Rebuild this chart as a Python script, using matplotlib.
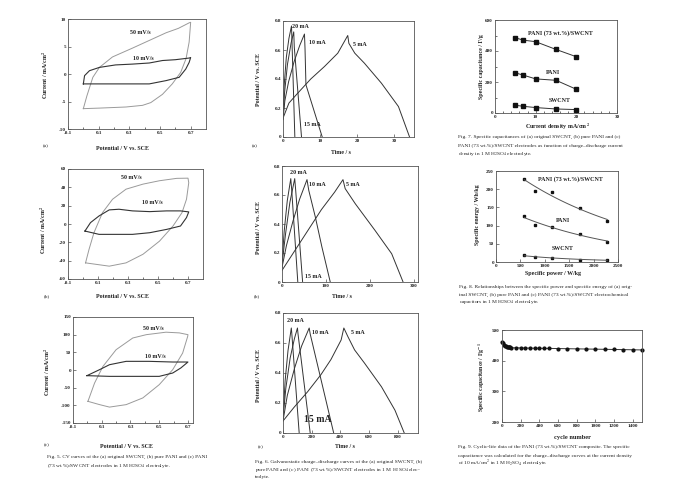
import numpy as np
import matplotlib
matplotlib.use("Agg")
import matplotlib.pyplot as plt
from matplotlib.ticker import FixedLocator, FuncFormatter

plt.rcParams['font.family'] = ['Liberation Serif', 'DejaVu Serif']
plt.rcParams['mathtext.fontset'] = 'stix'

# ---------------- Fig. 5 CV data ----------------
cv_a_50_E = [0.0, 0.023, 0.062, 0.105, 0.19, 0.32, 0.43, 0.54, 0.62, 0.69, 0.70, 0.69, 0.67, 0.635, 0.58, 0.516, 0.44, 0.386, 0.278, 0.105, 0.0]
cv_a_50_I = [-6.3, -4.0, -0.6, 1.2, 3.1, 4.7, 6.1, 7.5, 8.3, 9.3, 9.4, 5.8, 2.8, 0.3, -1.8, -3.7, -5.2, -5.7, -6.0, -6.2, -6.3]
cv_a_10_E = [0.0, 0.008, 0.04, 0.105, 0.21, 0.32, 0.43, 0.516, 0.6, 0.69, 0.70, 0.69, 0.668, 0.625, 0.54, 0.43, 0.32, 0.1, 0.0]
cv_a_10_I = [-1.8, -0.3, 0.6, 1.2, 1.65, 1.8, 2.0, 2.45, 2.6, 2.9, 3.0, 2.1, 0.9, -0.6, -1.2, -1.8, -1.8, -1.8, -1.8]

cv_b_50_E = [0.017, 0.04, 0.073, 0.13, 0.197, 0.287, 0.4, 0.51, 0.625, 0.70, 0.705, 0.69, 0.66, 0.6, 0.51, 0.4, 0.287, 0.175, 0.017]
cv_b_50_I = [-42.4, -27.8, -9.5, 12.4, 27, 38, 43.5, 47.2, 49.8, 50, 45, 27, 12.4, -2.2, -18.7, -33, -42.4, -46, -42.4]
cv_b_10_E = [0.013, 0.05, 0.107, 0.175, 0.24, 0.33, 0.445, 0.557, 0.65, 0.705, 0.69, 0.65, 0.557, 0.445, 0.33, 0.22, 0.107, 0.013]
cv_b_10_I = [-7.7, 1.5, 8.8, 15.4, 16.1, 14.3, 13.5, 14.3, 14.3, 13.2, 7, -2.2, -5.9, -9.5, -11.3, -11.3, -11.3, -7.7]

cv_c_50_E = [0.004, 0.05, 0.108, 0.2, 0.316, 0.41, 0.547, 0.64, 0.70, 0.698, 0.663, 0.594, 0.5, 0.386, 0.27, 0.154, 0.085, 0.004]
cv_c_50_I = [-88.7, -37, 10, 57.5, 90.6, 100, 107, 105, 100, 95, 48, 1, -41.5, -79, -98, -105, -98, -88.7]
cv_c_10_E = [-0.003, 0.085, 0.154, 0.27, 0.43, 0.594, 0.70, 0.65, 0.594, 0.5, 0.316, 0.154, -0.003]
cv_c_10_I = [-16, 1, 15, 24.5, 24.5, 22.6, 22.6, 5.7, -8.5, -18, -18, -18, -16]

# ---------------- Fig. 6 charge-discharge data ----------------
gcd_a_5_t = [0, 1.6, 3.9, 7.5, 11.2, 14.8, 17.5, 17.8, 19.4, 22, 26.6, 31.2, 34.2]
gcd_a_5_v = [0.13, 0.234, 0.30, 0.40, 0.486, 0.578, 0.70, 0.646, 0.578, 0.509, 0.371, 0.21, 0]
gcd_a_10_t = [0, 0.5, 1.5, 3.0, 4.5, 5.8, 5.95, 6.2, 10.6]
gcd_a_10_v = [0.12, 0.25, 0.38, 0.52, 0.63, 0.71, 0.61, 0.36, 0]
gcd_a_15_t = [0, 0.4, 1.2, 2.2, 2.9, 3.05, 5.0]
gcd_a_15_v = [0.12, 0.3, 0.5, 0.65, 0.725, 0.62, 0]
gcd_a_20_t = [0, 0.3, 0.9, 1.6, 2.3, 2.4, 3.2]
gcd_a_20_v = [0.13, 0.35, 0.55, 0.68, 0.766, 0.68, 0]

gcd_b_5_t = [0, 30, 60, 90, 120, 139, 144, 167, 212, 250, 276]
gcd_b_5_v = [0.08, 0.22, 0.36, 0.5, 0.62, 0.706, 0.644, 0.54, 0.356, 0.195, 0]
gcd_b_10_t = [0, 10, 25, 40, 57, 61, 76, 91, 110]
gcd_b_10_v = [0.1, 0.25, 0.42, 0.57, 0.706, 0.632, 0.448, 0.241, 0]
gcd_b_15_t = [0, 8, 18, 29, 31, 47]
gcd_b_15_v = [0.12, 0.33, 0.55, 0.713, 0.64, 0]
gcd_b_20_t = [0, 5, 12, 20, 22, 36]
gcd_b_20_v = [0.13, 0.35, 0.56, 0.713, 0.64, 0]

gcd_c_5_t = [0, 77, 171, 265, 335, 406, 425, 453, 500, 570, 688, 782, 847]
gcd_c_5_v = [0.08, 0.171, 0.274, 0.389, 0.49, 0.62, 0.70, 0.643, 0.554, 0.465, 0.308, 0.152, 0]
gcd_c_10_t = [0, 30, 80, 130, 183, 190, 354]
gcd_c_10_v = [0.08, 0.25, 0.43, 0.58, 0.70, 0.66, 0]
gcd_c_15_t = [0, 20, 50, 80, 101, 105, 190]
gcd_c_15_v = [0.1, 0.3, 0.5, 0.63, 0.70, 0.66, 0]
gcd_c_20_t = [0, 15, 35, 58, 61, 113]
gcd_c_20_v = [0.1, 0.35, 0.55, 0.70, 0.67, 0]

# ---------------- Fig. 7 ----------------
current_density = [5, 7, 10, 15, 20]
cap_composite = [485, 470, 460, 410, 363]
cap_pani = [259, 244, 220, 211, 153]
cap_swcnt = [50, 43, 35, 26, 22]

# ---------------- Fig. 8 ----------------
power = [582, 808, 1151, 1712, 2281]
energy_composite = [228, 195, 191, 149, 114]
energy_pani = [126, 103, 96, 78, 56]
energy_swcnt = [18, 15, 11, 6, 5.5]

# ---------------- Fig. 9 ----------------
cycles = [0, 10, 20, 30, 40, 50, 60, 70, 80, 90, 100, 150, 200, 250, 300, 350, 400, 450, 500,
          600, 700, 800, 900, 1000, 1100, 1200, 1300, 1400, 1500]
cycle_cap = [462, 456, 452, 449, 447, 446, 445, 444, 443.5, 443, 442, 442, 441.5, 441, 441, 440.5,
             440.5, 440, 440, 439.5, 439, 438.5, 438, 437.5, 437, 436.5, 436, 435.5, 435]

W, H = 677, 491
fig = plt.figure(figsize=(W / 100, H / 100), dpi=100)
fig.patch.set_facecolor('white')

TICK_FS = 3.7
LAB_FS = 4.3
ANN_FS = 4.3
CAP_FS = 3.9
LW = 0.7
DARK = '#333333'
LIGHT = '#9a9a9a'


def axes_px(l, t, r, b):
    ax = fig.add_axes([l / W, 1 - b / H, (r - l) / W, (b - t) / H])
    for s in ax.spines.values():
        s.set_linewidth(0.6)
        s.set_color('#555555')
    ax.tick_params(direction='in', length=2, width=0.4, labelsize=TICK_FS, pad=1.5,
                   colors='#222222', top=False, right=False)
    ax.tick_params(which='minor', direction='in', length=1.2, width=0.4)
    return ax


def bold_ticks(ax):
    for lab in ax.get_xticklabels() + ax.get_yticklabels():
        lab.set_fontweight('bold')


def ftext(x, y, s, **kw):
    kw.setdefault('ha', 'center')
    kw.setdefault('va', 'center')
    kw.setdefault('fontsize', ANN_FS)
    kw.setdefault('color', '#222222')
    fig.text(x / W, 1 - y / H, s, **kw)


def fmt_num(v, pos):
    if abs(v) < 1e-9:
        return '0'
    if float(v).is_integer():
        return '%d' % v
    return ('%g' % v)

fmt = FuncFormatter(fmt_num)

# ---------------- Fig. 5 panels ----------------
cv_specs = [
    ((68, 19, 206, 129), (-0.1, 0.8), (-10, 10), [-10, -5, 0, 5, 10],
     (cv_a_50_E, cv_a_50_I), (cv_a_10_E, cv_a_10_I)),
    ((68, 169, 203, 279), (-0.1, 0.8), (-60, 60), [-60, -40, -20, 0, 20, 40, 60],
     (cv_b_50_E, cv_b_50_I), (cv_b_10_E, cv_b_10_I)),
    ((73, 317, 193, 423), (-0.1, 0.735), (-150, 150), [-150, -100, -50, 0, 50, 100, 150],
     (cv_c_50_E, cv_c_50_I), (cv_c_10_E, cv_c_10_I)),
]
for rect, xl, yl, yt, l50, l10 in cv_specs:
    ax = axes_px(*rect)
    ax.plot(l50[0], l50[1], color=LIGHT, lw=LW)
    ax.plot(l10[0], l10[1], color=DARK, lw=LW + 0.1)
    ax.set_xlim(*xl)
    ax.set_ylim(*yl)
    ax.xaxis.set_major_locator(FixedLocator([-0.1, 0.1, 0.3, 0.5, 0.7]))
    ax.xaxis.set_minor_locator(FixedLocator([0.0, 0.2, 0.4, 0.6]))
    ax.yaxis.set_major_locator(FixedLocator(yt))
    ax.xaxis.set_major_formatter(fmt)
    ax.yaxis.set_major_formatter(fmt)
    bold_ticks(ax)

ftext(140, 32, '50 mV/s', fontweight='bold')
ftext(143, 58, '10 mV/s', fontweight='bold')
ftext(131, 177, '50 mV/s', fontweight='bold')
ftext(152, 202, '10 mV/s', fontweight='bold')
ftext(153, 329, '50 mV/s', fontweight='bold')
ftext(155, 357, '10 mV/s', fontweight='bold')

for (x, y) in [(122, 149), (122, 297), (127, 446)]:
    ftext(x, y, 'Potential / V vs. SCE', fontweight='bold', fontsize=LAB_FS)
for (x, y) in [(45, 75), (43, 230), (47, 372)]:
    ftext(x, y, 'Current / mA/cm$^\\mathbf{2}$', fontweight='bold', fontsize=LAB_FS, rotation=90)
for (x, y, s) in [(46, 146, '(a)'), (47, 296, '(b)'), (47, 445, '(c)')]:
    ftext(x, y, s, fontsize=CAP_FS)

ftext(47, 457, 'Fig. 5. CV curves of the (a) original SWCNT, (b) pure PANI and (c) PANI',
      fontsize=CAP_FS, ha='left')
ftext(47, 465.5, '(73 wt.%)/SWCNT electrodes in 1 M H$_2$SO$_4$ electrolyte.',
      fontsize=CAP_FS, ha='left')

# ---------------- Fig. 6 panels ----------------
gcd_specs = [
    ((283, 21, 414, 137), 35.4, [0, 10, 20, 30],
     [(gcd_a_5_t, gcd_a_5_v), (gcd_a_10_t, gcd_a_10_v), (gcd_a_15_t, gcd_a_15_v), (gcd_a_20_t, gcd_a_20_v)]),
    ((282, 166, 418, 282), 310, [0, 100, 200, 300],
     [(gcd_b_5_t, gcd_b_5_v), (gcd_b_10_t, gcd_b_10_v), (gcd_b_15_t, gcd_b_15_v), (gcd_b_20_t, gcd_b_20_v)]),
    ((283, 313, 418, 433), 943, [0, 200, 400, 600, 800],
     [(gcd_c_5_t, gcd_c_5_v), (gcd_c_10_t, gcd_c_10_v), (gcd_c_15_t, gcd_c_15_v), (gcd_c_20_t, gcd_c_20_v)]),
]
for rect, xmax, xt, curves in gcd_specs:
    ax = axes_px(*rect)
    for t, v in curves:
        ax.plot(t, v, color=DARK, lw=LW)
    ax.set_xlim(0, xmax)
    ax.set_ylim(0, 0.8)
    ax.xaxis.set_major_locator(FixedLocator(xt))
    ax.yaxis.set_major_locator(FixedLocator([0, 0.2, 0.4, 0.6, 0.8]))
    ax.xaxis.set_major_formatter(fmt)
    ax.yaxis.set_major_formatter(fmt)
    bold_ticks(ax)

for (x, y) in [(341, 153), (342, 297), (345, 447)]:
    ftext(x, y, 'Time / s', fontweight='bold', fontsize=LAB_FS)
for (x, y) in [(259, 80), (258, 227), (258, 375)]:
    ftext(x, y, 'Potential / V vs. SCE', fontweight='bold', fontsize=LAB_FS, rotation=90)
for (x, y, s) in [(255, 146, '(a)'), (257, 296, '(b)'), (261, 447, '(c)')]:
    ftext(x, y, s, fontsize=CAP_FS)

for (x, y, s) in [(300, 26, '20 mA'), (317, 43, '10 mA'), (360, 45, '5 mA'), (312, 124, '15 mA'),
                  (298, 172, '20 mA'), (317, 185, '10 mA'), (353, 185, '5 mA'), (313, 277, '15 mA'),
                  (295, 320, '20 mA'), (320, 333, '10 mA'), (358, 333, '5 mA')]:
    ftext(x, y, s, fontweight='bold')
ftext(318, 420, '15 mA', fontweight='bold', fontsize=7)

ftext(255, 462, 'Fig. 6. Galvanostatic charge\u2013discharge curves of the (a) original SWCNT, (b)',
      fontsize=CAP_FS, ha='left')
ftext(255, 469.5, 'pure PANI and (c) PANI (73 wt.%)/SWCNT electrodes in 1 M H$_2$SO$_4$ elec-',
      fontsize=CAP_FS, ha='left')
ftext(255, 477, 'trolyte.', fontsize=CAP_FS, ha='left')

# ---------------- Fig. 7 ----------------
ax7 = axes_px(495, 20, 617, 113)
for y in (cap_composite, cap_pani, cap_swcnt):
    ax7.plot(current_density, y, color=DARK, lw=LW, marker='s', ms=2.2, mfc='#111111', mec='#111111')
ax7.set_xlim(0, 30)
ax7.set_ylim(0, 600)
ax7.xaxis.set_major_locator(FixedLocator([0, 10, 20, 30]))
ax7.xaxis.set_minor_locator(FixedLocator([2, 4, 6, 8, 12, 14, 16, 18, 22, 24, 26, 28]))
ax7.yaxis.set_major_locator(FixedLocator([0, 200, 400, 600]))
ax7.yaxis.set_minor_locator(FixedLocator([100, 300, 500]))
bold_ticks(ax7)
ftext(560, 33, 'PANI (73 wt.%)/SWCNT', fontweight='bold')
ftext(553, 72, 'PANI', fontweight='bold')
ftext(560, 101, 'SWCNT', fontweight='bold')
ftext(558, 127, 'Current density mA/cm$^\\mathbf{2}$', fontweight='bold', fontsize=LAB_FS)
ftext(482, 67, 'Specific capacitance / F/g', fontweight='bold', fontsize=LAB_FS, rotation=90)
ftext(458, 137, 'Fig. 7. Specific capacitances of (a) original SWCNT, (b) pure PANI and (c)',
      fontsize=CAP_FS, ha='left')
ftext(458, 145.5, 'PANI (73 wt.%)/SWCNT electrodes as function of charge\u2013discharge current',
      fontsize=CAP_FS, ha='left')
ftext(458, 154, 'density in 1 M H$_2$SO$_4$ electrolyte.', fontsize=CAP_FS, ha='left')

# ---------------- Fig. 8 ----------------
ax8 = axes_px(496, 171, 618, 262)
pw = np.array(power, dtype=float)
xs = np.linspace(pw.min(), pw.max(), 100)
for y in (energy_composite, energy_pani, energy_swcnt):
    ax8.plot(power, y, ls='none', marker='s', ms=2.0, mfc='#111111', mec='#111111')
    coef = np.polyfit(pw, np.log(np.array(y, dtype=float)), 1)
    ax8.plot(xs, np.exp(np.polyval(coef, xs)), color='#555555', lw=LW)
ax8.set_xlim(0, 2500)
ax8.set_ylim(0, 250)
ax8.xaxis.set_major_locator(FixedLocator([0, 500, 1000, 1500, 2000, 2500]))
ax8.yaxis.set_major_locator(FixedLocator([0, 50, 100, 150, 200, 250]))
bold_ticks(ax8)
ftext(570, 179, 'PANI (73 wt.%)/SWCNT', fontweight='bold')
ftext(563, 221, 'PANI', fontweight='bold')
ftext(563, 248, 'SWCNT', fontweight='bold')
ftext(553, 274, 'Specific power / W/kg', fontweight='bold', fontsize=LAB_FS)
ftext(478, 215, 'Specific energy / Wh/kg', fontweight='bold', fontsize=LAB_FS, rotation=90)
ftext(459, 287, 'Fig. 8. Relationships between the specific power and specific energy of (a) orig-',
      fontsize=CAP_FS, ha='left')
ftext(459, 294.5, 'inal SWCNT, (b) pure PANI and (c) PANI (73 wt.%)/SWCNT electrochemical',
      fontsize=CAP_FS, ha='left')
ftext(459, 302, 'capacitors in 1 M H$_2$SO$_4$ electrolyte.', fontsize=CAP_FS, ha='left')

# ---------------- Fig. 9 ----------------
ax9 = axes_px(502, 330, 642, 422)
ax9.plot(cycles, cycle_cap, color=DARK, lw=LW, marker='o', ms=2.0, mfc='#111111', mec='#111111',
         clip_on=False)
ax9.set_xlim(0, 1500)
ax9.set_ylim(200, 500)
ax9.xaxis.set_major_locator(FixedLocator([0, 200, 400, 600, 800, 1000, 1200, 1400]))
ax9.yaxis.set_major_locator(FixedLocator([200, 300, 400, 500]))
bold_ticks(ax9)
ftext(572, 437, 'cycle number', fontweight='bold', fontsize=LAB_FS + 0.3)
ftext(482, 377, 'Specific capacitance / Fg$^{\\mathbf{-1}}$', fontweight='bold', fontsize=LAB_FS, rotation=90)
ftext(458, 447, 'Fig. 9. Cyclic-life data of the PANI (73 wt.%)/SWCNT composite. The specific',
      fontsize=CAP_FS, ha='left')
ftext(458, 455.5, 'capacitance was calculated for the charge\u2013discharge curves at the current density',
      fontsize=CAP_FS, ha='left')
ftext(458, 464, 'of 10 mA/cm$^2$ in 1 M H$_2$SO$_4$ electrolyte.', fontsize=CAP_FS, ha='left')

fig.savefig('out.png', dpi=100, facecolor='white')
